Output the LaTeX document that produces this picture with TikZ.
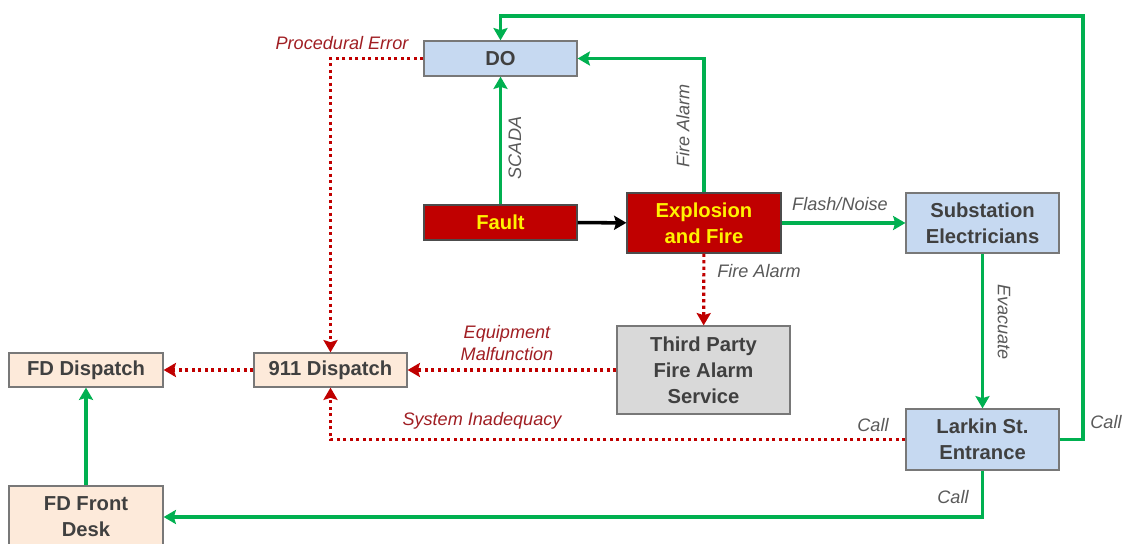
\documentclass[tikz,border=0pt]{standalone}
\usepackage{fontspec}
\setmainfont{Liberation Sans}
\usepackage{tikz}
\usetikzlibrary{arrows.meta}
\definecolor{flowGreen}{RGB}{0, 176, 80}
\definecolor{errRed}{RGB}{192, 0, 0}
\definecolor{lblRed}{RGB}{160, 30, 35}
\definecolor{boxBlue}{RGB}{198, 217, 241}
\definecolor{boxPeach}{RGB}{253, 234, 218}
\definecolor{boxGrey}{RGB}{217, 217, 217}
\definecolor{boxLine}{RGB}{120, 120, 120}
\definecolor{boxText}{RGB}{64, 64, 64}
\definecolor{lblGrey}{RGB}{89, 89, 89}

\tikzset{
  box/.style={draw=boxLine, line width=0.7pt, inner sep=0pt, align=center,
    text=boxText, font=\fontsize{11.5}{14.8}\selectfont\bfseries,
    minimum width=30.6mm, minimum height=7mm},
  bluebox/.style={box, fill=boxBlue},
  peachbox/.style={box, fill=boxPeach},
  greybox/.style={box, fill=boxGrey},
  redbox/.style={box, fill=errRed, draw=black!70, text=yellow},
  tip/.style={-{Stealth[length=7pt,width=8pt,inset=1.2pt]}},
  flow/.style={tip, draw=flowGreen, line width=1.8pt},
  fail/.style={tip, draw=errRed, line width=1.8pt, dash pattern=on 1.8pt off 1.9pt},
  lbl/.style={font=\fontsize{10.3}{12.4}\selectfont\itshape, text=lblGrey},
  errlbl/.style={lbl, text=lblRed, align=center}
}

\begin{document}
\begin{tikzpicture}[x=0.2mm, y=-0.2mm]
    \useasboundingbox (0,0) rectangle (1123,544);
    % boxes
    \node[bluebox] (do) at (500.5,58.5) {DO};
    \node[redbox] (fault) at (500.5,222.5) {Fault};
    \node[redbox, minimum width=30.8mm, minimum height=12mm] (expl) at (704,223) {Explosion\\and Fire};
    \node[bluebox, minimum height=12mm] (subst) at (982.5,223) {Substation\\Electricians};
    \node[greybox, minimum width=34.6mm, minimum height=17.6mm] (third) at (703.5,370) {Third Party\\Fire Alarm\\Service};
    \node[peachbox, minimum height=6.8mm] (d911) at (330.5,370) {911 Dispatch};
    \node[peachbox, minimum width=30.8mm, minimum height=6.8mm] (fddisp) at (86,370) {FD Dispatch};
    \node[bluebox, minimum height=12.2mm] (larkin) at (982.5,439.5) {Larkin St.\\Entrance};
    \node[peachbox, minimum width=30.8mm, minimum height=12.4mm] (front) at (86,517) {FD Front\\Desk};
    \coordinate (topright) at (1083,16);

    % normal flow
    \draw[flow] (fault) -- (do);
    \draw[flow] (expl.north) |- (do.east);
    \draw[tip, line width=2pt] (fault) -- (expl);
    \draw[flow] (expl) -- (subst);
    \draw[flow] (subst) -- (larkin);
    \draw[flow] (larkin.east) -| (topright) -| (do.north);
    \draw[flow] (larkin.south) |- (front.east);
    \draw[flow] (front) -- (fddisp);

    % failures
    \draw[fail] (expl) -- (third);
    \draw[fail] (third) -- (d911);
    \draw[fail] (d911) -- (fddisp);
    \draw[fail] (do.west) -| (d911.north);
    \draw[fail] (larkin.west) -| (d911.south);

    % labels
    \node[lbl, rotate=90] (lscada) at (515,148) {SCADA};
    \node[lbl, rotate=90] (lfire) at (683,126) {Fire Alarm};
    \node[lbl] (lflash) at (840,204) {Flash/Noise};
    \node[lbl] (lfire2) at (759,271) {Fire Alarm};
    \node[lbl, rotate=-90] (levac) at (1004,322) {Evacuate};
    \node[lbl] (lcall1) at (873,425) {Call};
    \node[lbl] (lcall2) at (1106,422) {Call};
    \node[lbl] (lcall3) at (953,497) {Call};
    \node[errlbl] (lproc) at (342,43) {Procedural Error};
    \node[errlbl] (lequip) at (507,343) {Equipment\\Malfunction};
    \node[errlbl] (lsys) at (482,421) {System Inadequacy};
\end{tikzpicture}
\end{document}
